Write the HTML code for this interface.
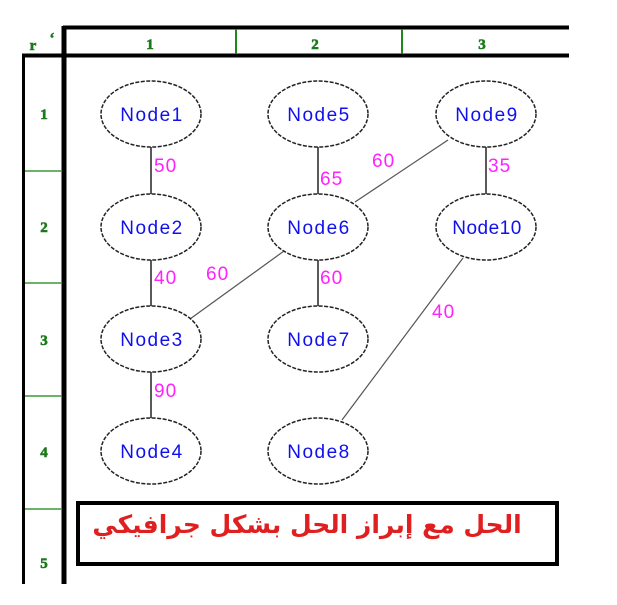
<!DOCTYPE html>
<html><head><meta charset="utf-8"><style>
html,body{margin:0;padding:0;background:#fff;}
svg{display:block}
</style></head><body>
<svg width="617" height="605" viewBox="0 0 617 605" xmlns="http://www.w3.org/2000/svg">
<line x1="63" y1="27.5" x2="569" y2="27.5" stroke="#000" stroke-width="4"/>
<line x1="22" y1="55.5" x2="569" y2="55.5" stroke="#000" stroke-width="4"/>
<line x1="236" y1="29" x2="236" y2="54" stroke="#1a8a1a" stroke-width="2"/>
<line x1="402" y1="29" x2="402" y2="54" stroke="#1a8a1a" stroke-width="2"/>
<line x1="64" y1="26" x2="64" y2="584" stroke="#000" stroke-width="5"/>
<line x1="23.5" y1="56" x2="23.5" y2="584" stroke="#000" stroke-width="3"/>
<g stroke="#3a9a3a" stroke-width="1.5">
<line x1="25" y1="171" x2="62" y2="171"/><line x1="25" y1="283" x2="62" y2="283"/>
<line x1="25" y1="396" x2="62" y2="396"/><line x1="25" y1="509" x2="62" y2="509"/>
</g>
<g font-family="Liberation Serif,serif" font-weight="bold" font-size="15" fill="#1a7a1a" text-anchor="middle" stroke="#1a7a1a" stroke-width="0.6">
<text x="150" y="49">1</text><text x="315" y="49">2</text><text x="482" y="49">3</text>
<text x="44" y="119">1</text><text x="44" y="232">2</text><text x="44" y="345">3</text><text x="44" y="457">4</text><text x="44" y="568">5</text>
<text x="33" y="50">r</text><text x="52" y="43">‘</text>
</g>
<g stroke="#222" stroke-width="1.5">
<line x1="151" y1="147" x2="151" y2="194"/><line x1="151" y1="260" x2="151" y2="306"/><line x1="151" y1="372" x2="151" y2="418"/>
<line x1="318" y1="147" x2="318" y2="194"/><line x1="318" y1="260" x2="318" y2="306"/>
<line x1="486" y1="147" x2="486" y2="194"/>
</g>
<g stroke="#555" stroke-width="1.2">
<line x1="448" y1="140" x2="355" y2="202"/>
<line x1="284" y1="251" x2="190" y2="319"/>
<line x1="463" y1="258" x2="342" y2="420"/>
</g>
<g fill="#fff" stroke="#222" stroke-width="1.5" stroke-dasharray="4,1.5">
<ellipse cx="151" cy="114" rx="50" ry="33"/><ellipse cx="151" cy="227" rx="50" ry="33"/>
<ellipse cx="151" cy="339" rx="50" ry="33"/><ellipse cx="151" cy="451" rx="50" ry="33"/>
<ellipse cx="318" cy="114" rx="50" ry="33"/><ellipse cx="318" cy="227" rx="50" ry="33"/>
<ellipse cx="318" cy="339" rx="50" ry="33"/><ellipse cx="318" cy="451" rx="50" ry="33"/>
<ellipse cx="486" cy="114" rx="50" ry="33"/><ellipse cx="486" cy="227" rx="50" ry="33"/>
</g>
<g font-family="Liberation Sans,sans-serif" font-size="19" letter-spacing="1.5" fill="#1010ee" text-anchor="middle">
<text x="152" y="121">Node1</text><text x="152" y="234">Node2</text><text x="152" y="346">Node3</text><text x="152" y="458">Node4</text>
<text x="319" y="121">Node5</text><text x="319" y="234">Node6</text><text x="319" y="346">Node7</text><text x="319" y="458">Node8</text>
<text x="487" y="121">Node9</text><text x="487" y="234" letter-spacing="0.5">Node10</text>
</g>
<g font-family="Liberation Sans,sans-serif" font-size="19" letter-spacing="1" fill="#ff22ff">
<text x="154" y="172">50</text><text x="320" y="185">65</text><text x="372" y="167">60</text><text x="488" y="172">35</text>
<text x="154" y="284">40</text><text x="206" y="280">60</text><text x="320" y="284">60</text><text x="432" y="318">40</text>
<text x="154" y="397">90</text>
</g>
<rect x="78" y="503" width="479" height="61" fill="none" stroke="#000" stroke-width="4"/>
<text x="307" y="533" text-anchor="middle" font-family="DejaVu Sans,sans-serif" font-weight="bold" font-size="25" fill="#e02020">الحل مع إبراز الحل بشكل جرافيكي</text>
</svg>
</body></html>
